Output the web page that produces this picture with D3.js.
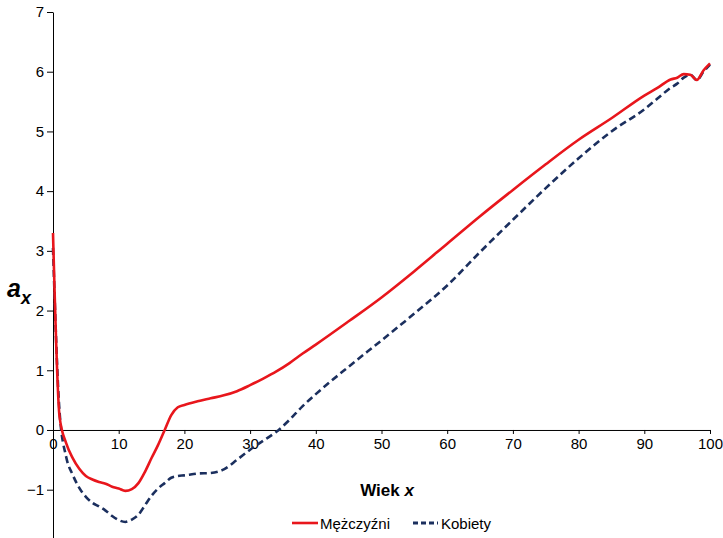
<!DOCTYPE html>
<html>
<head>
<meta charset="utf-8">
<script src="https://cdn.jsdelivr.net/npm/d3@7"></script>
<style>
  body { margin: 0; background: #fff; }
  svg { display: block; font-family: "Liberation Sans", Arial, sans-serif; }
  .axis path, .axis line { stroke: #000; stroke-width: 1; }
  .axis text { font-size: 15px; fill: #000; font-family: "Liberation Sans", Arial, sans-serif; }
</style>
</head>
<body>
<script>
// ages and a_x values
var ages = [0,1,2,3,4,5,6,7,8,9,10,11,12,13,14,15,16,17,18,19,20,
            22,24,26,28,30,32,34,36,38,40,45,50,55,60,65,70,75,80,85,90,92,94,95,96,97,98,99,100];

var men = [3.3,0.22,-0.22,-0.47,-0.65,-0.77,-0.83,-0.87,-0.9,-0.95,-0.98,-1.02,-0.99,-0.89,-0.7,-0.47,-0.25,0.0,0.25,0.38,0.42,
           0.48,0.53,0.58,0.65,0.75,0.86,0.98,1.12,1.28,1.43,1.82,2.22,2.66,3.12,3.58,4.02,4.45,4.86,5.22,5.6,5.73,5.87,5.9,5.96,5.95,5.86,6.02,6.14];

var women = [3.05,0.3,-0.45,-0.75,-0.97,-1.12,-1.22,-1.28,-1.35,-1.44,-1.51,-1.54,-1.5,-1.42,-1.26,-1.1,-0.98,-0.89,-0.8,-0.77,-0.76,
             -0.73,-0.72,-0.66,-0.5,-0.33,-0.18,-0.03,0.17,0.4,0.6,1.06,1.5,1.95,2.42,2.98,3.52,4.05,4.55,5.0,5.37,5.55,5.73,5.8,5.9,5.95,5.86,6.0,6.12];

var seriesNames = ["Mężczyźni", "Kobiety"];
var xTicks = [0,10,20,30,40,50,60,70,80,90,100];
var yTicks = [-1,0,1,2,3,4,5,6,7];

var width = 723, height = 538;

var svg = d3.select("body").append("svg")
    .attr("width", width)
    .attr("height", height);

// scales
var x = d3.scaleLinear().domain([0, 100]).range([53, 710]);
var y = d3.scaleLinear().domain([-2, 7]).range([549.4, 12]);

// y axis
svg.append("g")
    .attr("class", "axis")
    .attr("transform", "translate(" + x(0) + ",0)")
    .call(d3.axisLeft(y).tickValues(yTicks).tickSize(6).tickPadding(3).tickSizeOuter(0));

// x axis along zero
svg.append("g")
    .attr("class", "axis")
    .attr("transform", "translate(0," + y(0) + ")")
    .call(d3.axisBottom(x).tickValues(xTicks).tickSize(4).tickPadding(4).tickSizeOuter(0));

var line = d3.line()
    .x(function(d) { return x(d[0]); })
    .y(function(d) { return y(d[1]); })
    .curve(d3.curveMonotoneX);

svg.append("path")
    .datum(ages.map(function(a, i) { return [a, women[i]]; }))
    .attr("fill", "none")
    .attr("stroke", "#1b2f5e")
    .attr("stroke-width", 2.6)
    .attr("stroke-dasharray", "7,4")
    .attr("d", line);

svg.append("path")
    .datum(ages.map(function(a, i) { return [a, men[i]]; }))
    .attr("fill", "none")
    .attr("stroke", "#e8161c")
    .attr("stroke-width", 2.6)
    .attr("d", line);

// axis titles
var yt = svg.append("text")
    .attr("x", 7)
    .attr("y", 297)
    .attr("font-weight", "bold")
    .attr("font-style", "italic")
    .attr("font-size", 25);
yt.append("tspan").text("a");
yt.append("tspan").attr("font-size", 18).attr("dy", 7).text("x");

var xt = svg.append("text")
    .attr("x", 387)
    .attr("y", 496)
    .attr("text-anchor", "middle")
    .attr("font-weight", "bold")
    .attr("font-size", 17);
xt.append("tspan").text("Wiek ");
xt.append("tspan").attr("font-style", "italic").text("x");

// legend
var legend = svg.append("g").attr("transform", "translate(0,523)");
legend.append("line")
    .attr("x1", 292).attr("x2", 318)
    .attr("stroke", "#e8161c").attr("stroke-width", 2.6);
legend.append("text")
    .attr("x", 320).attr("y", 5.5)
    .attr("font-size", 15)
    .text(seriesNames[0]);
legend.append("line")
    .attr("x1", 413).attr("x2", 438)
    .attr("stroke", "#1b2f5e").attr("stroke-width", 2.8)
    .attr("stroke-dasharray", "5,3");
legend.append("text")
    .attr("x", 441).attr("y", 5.5)
    .attr("font-size", 15)
    .text(seriesNames[1]);
</script>
</body>
</html>
